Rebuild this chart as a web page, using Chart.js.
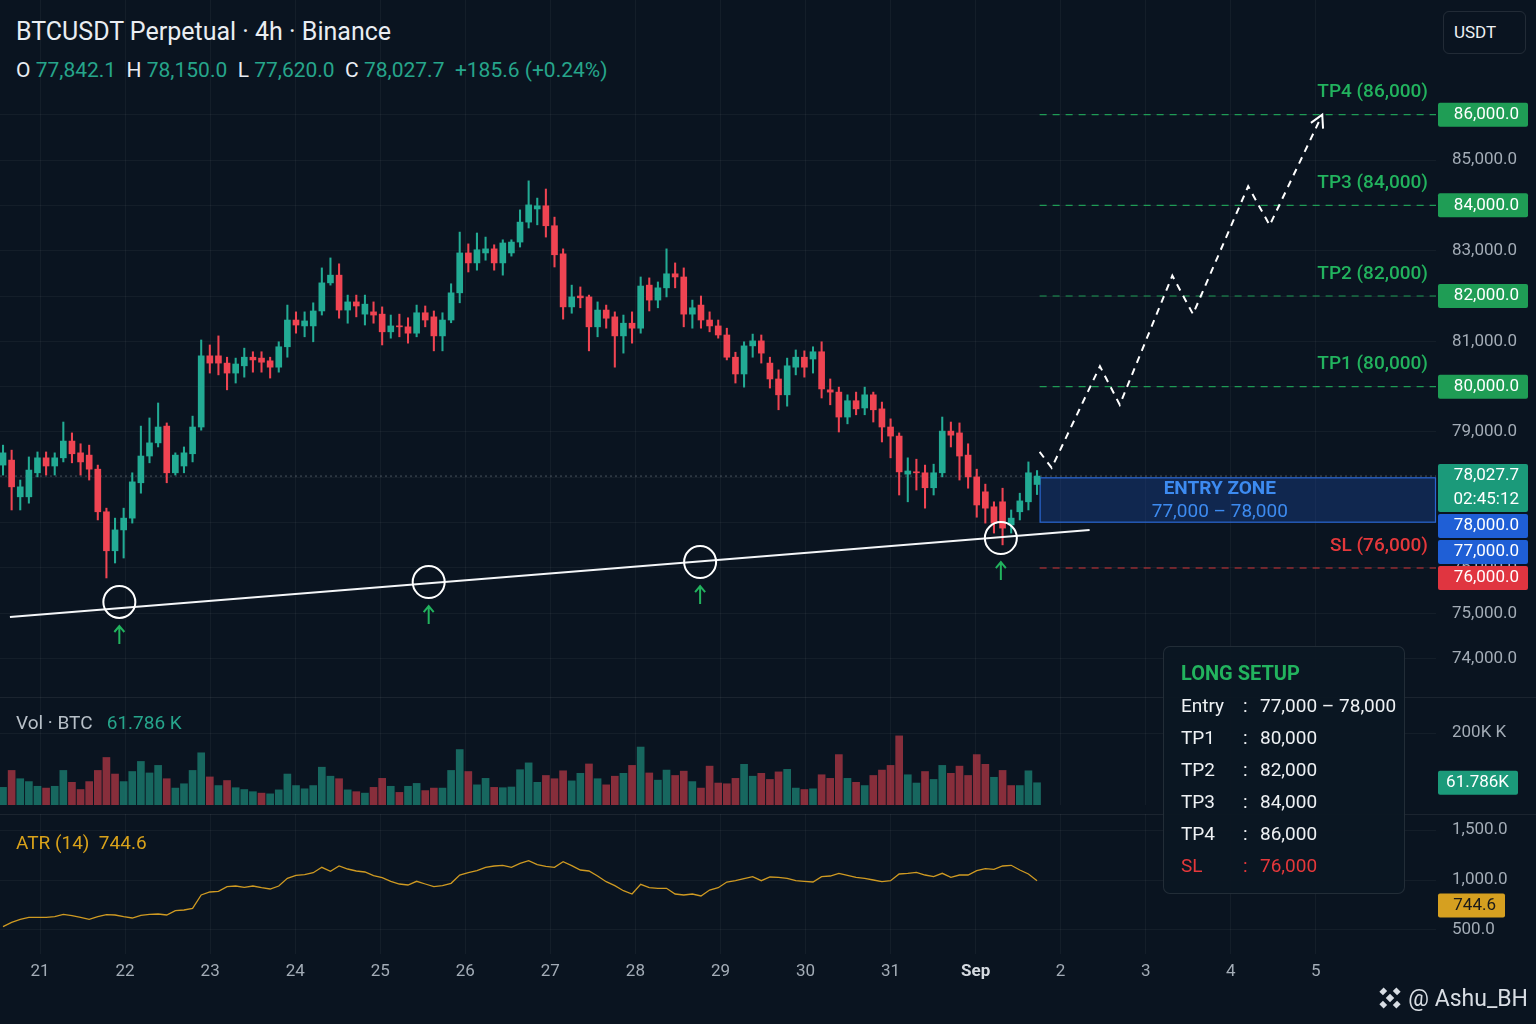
<!DOCTYPE html>
<html>
<head>
<meta charset="utf-8">
<title>BTCUSDT Perpetual 4h</title>
<script src="https://cdn.jsdelivr.net/npm/chart.js@4.4.1/dist/chart.umd.min.js"></script>
<style>
  html, body { margin: 0; padding: 0; }
  body { position: relative; width: 1536px; height: 1024px; overflow: hidden; background: #0a1420; font-family: Roboto, "Noto Sans", sans-serif; }
  .pane { position: absolute; left: 0; width: 1536px; }
  .sep { position: absolute; left: 0; width: 1536px; height: 1px; background: rgba(255,255,255,0.07); }
  #title { position: absolute; left: 16px; top: 16px; font-size: 25px; line-height: 32px; color: #e9edf2; }
  #ohlc { position: absolute; left: 16px; top: 56px; font-size: 21px; line-height: 28px; color: #e9edf2; white-space: pre; }
  .up { color: #26a58b; }
  #unit { position: absolute; left: 1443px; top: 11px; width: 83px; height: 43px; border: 1px solid rgba(255,255,255,0.1); border-radius: 6px; color: #eef1f4; font-size: 17px; line-height: 41px; padding-left: 10px; box-sizing: border-box; }
  .pane-title { position: absolute; left: 16px; font-size: 19px; line-height: 24px; white-space: pre; }
  #setup { position: absolute; left: 1163px; top: 646px; width: 242px; height: 248px; box-sizing: border-box; border: 1px solid rgba(255,255,255,0.1); border-radius: 7px; background: rgba(11,22,34,0.94); }
  #setup .head { position: absolute; left: 17px; top: 10px; font-size: 20px; line-height: 32px; font-weight: bold; color: #22b35e; }
  #setup .row { position: absolute; left: 17px; font-size: 19px; line-height: 32px; color: #eef1f4; white-space: nowrap; }
  #setup .row span { position: absolute; top: 0; }
  #mark { position: absolute; right: 8px; top: 983px; height: 30px; display: flex; align-items: center; gap: 4px; color: #d8dde3; font-size: 23px; }
</style>
</head>
<body>
<div id="title">BTCUSDT Perpetual · 4h · Binance</div>
<div id="ohlc"></div>
<div id="unit">USDT</div>

<div class="pane" style="top:0;height:697px"><canvas id="price-chart"></canvas></div>
<div class="sep" style="top:697px"></div>
<div class="pane" style="top:697px;height:117px"><canvas id="volume-chart"></canvas></div>
<div class="sep" style="top:814px"></div>
<div class="pane" style="top:814px;height:210px"><canvas id="atr-chart"></canvas></div>

<div class="pane-title" id="vol-title" style="top:711px"></div>
<div class="pane-title" id="atr-title" style="top:831px;color:#d9a21a"></div>

<div id="setup"></div>

<div id="mark">
  <svg width="28" height="28" viewBox="0 0 28 28">
    <g fill="#d8dde3" transform="rotate(45 14 14)">
      <rect x="11" y="11" width="6" height="6"/>
      <rect x="11" y="2" width="6" height="5"/>
      <rect x="11" y="21" width="6" height="5"/>
      <rect x="2" y="11" width="5" height="6"/>
      <rect x="21" y="11" width="5" height="6"/>
    </g>
  </svg>
  <span>@ Ashu_BH</span>
</div>

<script>
// ---- candles (4h) ----
const OPEN = [78270,78380,77570,77570,78100,78430,78250,78430,78800,78540,
  78490,78180,77240,76380,76840,77100,77880,78470,78760,79130,
  78100,78250,78520,79110,80680,80680,80520,80300,80460,80650,
  80630,80570,80430,80880,81470,81340,81340,81670,82290,82460,
  81690,81870,81600,81650,81600,81210,81340,81320,81180,81630,
  81540,81120,81470,82070,82950,82730,82950,83040,82730,82950,
  83190,83630,83920,83990,83550,82930,81760,82000,81980,81320,
  81690,81540,81120,81400,81290,82240,81910,82180,82490,82420,
  81600,81800,81470,81340,81140,80650,80280,80900,81010,80520,
  80170,79820,80430,80650,80610,80770,79930,79880,79330,79690,
  79530,79820,79510,79110,78910,78070,78120,78100,77770,78100,
  79020,78980,78490,78010,77680,77350,77460,76950,77240,77460,
  77842.1];
const HIGH = [78710,78600,77940,78450,78560,78560,78540,79220,78980,78740,
  78710,78270,77320,77100,77320,78100,79130,79310,79640,79200,
  78540,78670,79350,81030,80920,81120,80650,80630,80850,80770,
  80770,80650,80990,81800,81650,81650,81850,82620,82840,82710,
  82020,82020,82020,81870,81760,81580,81600,81520,81800,81780,
  81670,81630,82270,83410,83150,83390,83300,83130,83240,83240,
  83900,84540,84160,84360,83740,83040,82240,82200,82020,81870,
  81800,81650,81580,81650,82420,82400,82310,83040,82730,82620,
  81910,82000,81650,81470,81290,80760,80990,81160,81140,80650,
  80370,80630,80810,80790,80880,80990,80170,79990,79820,79880,
  79990,79880,79660,79290,78980,78430,78400,78270,78290,79330,
  79220,79200,78740,78180,77850,77460,77760,77280,77650,78340,
  78150];
const LOW = [78050,77280,77280,77430,78010,78050,78050,78340,78320,78050,
  77940,77060,75780,76110,76220,76990,77650,78320,78670,77880,
  78050,78100,78340,79040,80300,80260,79930,80080,80210,80320,
  80320,80190,80320,80650,81180,81100,80990,81580,82240,81510,
  81400,81540,81360,81400,80920,81070,81100,80960,81100,81320,
  80790,80790,81410,81850,82530,82570,82790,82570,82460,82880,
  83080,83500,83570,83300,82640,81490,81620,81740,80790,81100,
  81290,80430,80740,80960,81180,81670,81740,81980,82180,81320,
  81290,81290,81210,81070,80590,80080,79990,80650,80520,79970,
  79490,79570,80260,80210,80300,79750,79600,79000,79180,79380,
  79380,79220,78780,78430,77610,77460,77720,77320,77610,78010,
  78670,77940,77760,77120,76990,76770,76510,76770,77060,77280,
  77620];
const CLOSE = [78540,77790,77790,78160,78430,78250,78430,78800,78520,78340,
  78180,77240,76380,76840,77100,77900,78470,78760,79110,78100,
  78490,78540,79110,80680,80520,80520,80300,80500,80650,80590,
  80540,80430,80880,81470,81360,81450,81670,82290,82460,81690,
  81870,81780,81820,81580,81210,81340,81320,81180,81630,81470,
  81120,81470,82070,82950,82730,83020,83040,82730,83170,83190,
  83630,84010,83990,83550,82910,81760,81980,81960,81320,81690,
  81510,81120,81400,81290,82220,81910,82180,82490,82420,81600,
  81740,81470,81340,81140,80650,80280,80900,81010,80740,80170,
  79820,80460,80650,80430,80770,79950,79880,79330,79690,79510,
  79820,79490,79110,78910,78120,78140,78100,77770,78100,79020,
  78930,78470,78010,77390,77320,76990,76880,77100,77480,78100,
  78027.7];

// volume in thousands of BTC, and the colour of each volume bar (g = up, r = down)
const VOLUME_K = [49,96,73,65,52,47,52,96,63,43,65,96,132,86,65,93,121,89,110,73,
  47,59,96,145,78,54,68,48,43,37,33,31,42,86,54,45,54,105,80,73,
  42,37,33,49,74,52,35,52,60,40,47,47,96,154,93,56,74,49,48,50,
  98,117,63,82,73,95,67,88,114,73,56,80,88,110,161,89,69,97,82,94,
  65,47,108,61,59,74,113,80,88,71,92,99,47,43,45,84,74,140,74,63,
  54,82,97,110,192,84,61,93,71,110,88,108,82,140,113,77,96,54,54,95,
  61.786];
const VOLUME_SIDE = 'grgggrggrr' + 'rrrrgggggr' + 'ggggrgrggg' + 'rggggggggr' + 'grgrrgrggr' + 'rgggrggrgg' + 'gg' +
  'grrrggrgrr' + 'grgrggrrgr' + 'rrrrggrrrg' + 'grgrrrgrgr' + 'rrrggrggrr' + 'rrrgrrggg';

// ATR (14) line
const ATR = [533,577,607,627,627,627,633,657,643,627,
  607,633,653,650,633,620,647,657,660,650,
  693,700,717,850,880,887,933,940,927,940,
  923,910,940,1017,1047,1053,1073,1127,1087,1140,
  1110,1090,1080,1043,1023,987,960,950,987,960,
  933,943,967,1050,1073,1093,1127,1140,1147,1127,
  1167,1193,1153,1137,1127,1183,1143,1100,1090,1040,
  983,943,893,860,957,923,917,917,860,850,
  860,840,900,923,980,993,1013,1033,993,1030,
  1027,1017,993,987,980,1033,1040,1067,1047,1027,
  1017,1000,983,993,1060,1067,1077,1050,1033,1067,
  1027,1050,1050,1093,1113,1107,1140,1147,1100,1060,
  993];
const ATR_LAST = 744.6;

// trade plan
const TP_LEVELS = [80000, 82000, 84000, 86000];
const STOP_LOSS = 76000;
const ENTRY_LOW = 77000;
const ENTRY_HIGH = 78000;
const COUNTDOWN = '02:45:12';

// projected path (candle index, price)
const FORECAST_X = [120.3, 121.7, 127.3, 129.6, 135.7, 138.1, 144.5, 147.0, 153.1];
const FORECAST_Y = [78560, 78210, 80450, 79600, 82450, 81600, 84420, 83560, 86000];

// rising support line and its touches
const TREND_X = [0.8, 126.1];
const TREND_Y = [74920, 76840];
const SUPPORT_X = [13.5, 49.4, 80.9, 115.8];
const SUPPORT_Y = [75250, 75690, 76130, 76660];

// axes
const DAY_LABELS = ['21','22','23','24','25','26','27','28','29','30','31','Sep','2','3','4','5'];
const PRICE_TICKS = [74000,75000,76000,77000,78000,79000,80000,81000,82000,83000,84000,85000,86000];
const VOLUME_TICKS = [200];
const ATR_TICKS = [500, 1000, 1500];

// ---- layout ----
const X_MIN = -0.35, X_MAX = 166.3;
const DAY_FIRST = 4.3, DAY_STEP = 9.87;
const SETUP_START = 120.3;
const AXIS_W = 100;

const UP = '#22ab94', DOWN = '#ef4452';
const VOL_UP = 'rgba(34,171,148,0.55)', VOL_DOWN = 'rgba(239,68,82,0.55)';
const TP_GREEN = '#22b35e', SL_RED = '#e5383b';
const GRID = 'rgba(255,255,255,0.045)';
const TICK = '#a3acb6';

Chart.defaults.font.family = 'Roboto, "Noto Sans", sans-serif';
Chart.defaults.animation = false;
Chart.defaults.events = [];
Chart.defaults.plugins.legend.display = false;
Chart.defaults.plugins.tooltip.enabled = false;

const fmt1 = v => v.toLocaleString('en-US', {minimumFractionDigits: 1, maximumFractionDigits: 1});
const fmt0 = v => v.toLocaleString('en-US');
const last = CLOSE.length - 1;
const idx = CLOSE.map((_, i) => i);

// header texts
const chg = CLOSE[last] - OPEN[last];
document.getElementById('ohlc').innerHTML =
  `O <span class="up">${fmt1(OPEN[last])}</span>  H <span class="up">${fmt1(HIGH[last])}</span>  ` +
  `L <span class="up">${fmt1(LOW[last])}</span>  C <span class="up">${fmt1(CLOSE[last])}</span>  ` +
  `<span class="up">${chg >= 0 ? '+' : ''}${chg.toFixed(1)} (${chg >= 0 ? '+' : ''}${(chg / OPEN[last] * 100).toFixed(2)}%)</span>`;
document.getElementById('vol-title').innerHTML =
  `<span style="color:#b8c0c8">Vol · BTC</span>   <span class="up">${VOLUME_K[last].toFixed(3)} K</span>`;
document.getElementById('atr-title').textContent = `ATR (14)  ${ATR_LAST}`;

const setupRows = [['Entry', `${fmt0(ENTRY_LOW)} – ${fmt0(ENTRY_HIGH)}`, false]]
  .concat(TP_LEVELS.map((v, k) => [`TP${k + 1}`, fmt0(v), false]))
  .concat([['SL', fmt0(STOP_LOSS), true]]);
document.getElementById('setup').innerHTML = '<div class="head">LONG SETUP</div>' +
  setupRows.map((r, k) => `<div class="row" style="top:${43 + k * 32}px;${r[2] ? 'color:' + SL_RED : ''}">` +
    `<span style="left:0">${r[0]}</span><span style="left:62px">:</span><span style="left:79px">${r[1]}</span></div>`).join('');

// ---- shared pieces ----
function xAxis(labels) {
  return {
    type: 'linear', min: X_MIN, max: X_MAX, offset: false,
    afterBuildTicks: s => { s.ticks = DAY_LABELS.map((_, k) => ({value: DAY_FIRST + k * DAY_STEP})); },
    afterFit: s => { s.height = labels ? 30 : 0; s.paddingLeft = 0; s.paddingRight = 0; },
    ticks: {
      display: labels, autoSkip: false, maxRotation: 0, padding: 8,
      callback: (v, k) => DAY_LABELS[k],
      color: c => DAY_LABELS[c.index] === 'Sep' ? '#d5dae0' : TICK,
      font: c => ({size: 17, weight: DAY_LABELS[c.index] === 'Sep' ? 'bold' : 'normal'})
    },
    grid: {color: GRID, drawTicks: false, offset: false},
    border: {display: false}
  };
}

function yAxis(min, max, ticks, label) {
  return {
    position: 'right', min, max,
    afterBuildTicks: s => { s.ticks = ticks.map(v => ({value: v})); },
    afterFit: s => { s.width = AXIS_W; s.paddingTop = 0; s.paddingBottom = 0; },
    ticks: {callback: label, color: TICK, padding: 16, font: {size: 17}},
    grid: {color: GRID, drawTicks: false},
    border: {display: false}
  };
}

function tagBox(ctx, left, top, w, lines, bg, fg) {
  ctx.fillStyle = bg;
  ctx.beginPath();
  ctx.roundRect(left, top, w, 24 * lines.length, 2);
  ctx.fill();
  ctx.fillStyle = fg;
  ctx.font = '17px Roboto';
  ctx.textAlign = 'right';
  ctx.textBaseline = 'middle';
  lines.forEach((t, k) => ctx.fillText(t, left + w - 9, top + 12 + k * 24));
}

function levelLine(level, color, dash) {
  return {
    type: 'line', order: 3,
    data: [{x: SETUP_START, y: level}, {x: X_MAX, y: level}],
    borderColor: color, borderWidth: 1.2, borderDash: dash, pointRadius: 0
  };
}

// ---- price pane plugins ----
const entryZone = {
  id: 'entryZone',
  beforeDatasetsDraw(chart) {
    const {ctx, chartArea, scales: {x, y}} = chart;
    const left = x.getPixelForValue(SETUP_START), right = chartArea.right;
    const top = y.getPixelForValue(ENTRY_HIGH), bottom = y.getPixelForValue(ENTRY_LOW);
    ctx.save();
    ctx.fillStyle = 'rgba(30,80,175,0.33)';
    ctx.fillRect(left, top, right - left, bottom - top);
    ctx.strokeStyle = '#2a66d0';
    ctx.lineWidth = 1.2;
    ctx.strokeRect(left + 0.5, top + 0.5, right - left - 1, bottom - top - 1);
    const cx = (left + right) / 2 - 18, cy = (top + bottom) / 2;
    ctx.fillStyle = '#3d8bf0';
    ctx.textAlign = 'center';
    ctx.textBaseline = 'middle';
    ctx.font = 'bold 19px Roboto';
    ctx.fillText('ENTRY ZONE', cx, cy - 11);
    ctx.font = '19px Roboto';
    ctx.fillText(`${fmt0(ENTRY_LOW)} – ${fmt0(ENTRY_HIGH)}`, cx, cy + 12);
    ctx.restore();
  }
};

const annotations = {
  id: 'annotations',
  afterDatasetsDraw(chart) {
    const {ctx, chartArea, scales: {x, y}} = chart;
    ctx.save();
    // level captions
    ctx.font = '500 19px Roboto';
    ctx.textAlign = 'right';
    ctx.textBaseline = 'middle';
    TP_LEVELS.forEach((v, k) => {
      ctx.fillStyle = TP_GREEN;
      ctx.fillText(`TP${k + 1} (${fmt0(v)})`, chartArea.right - 8, y.getPixelForValue(v) - 22);
    });
    ctx.fillStyle = SL_RED;
    ctx.fillText(`SL (${fmt0(STOP_LOSS)})`, chartArea.right - 8, y.getPixelForValue(STOP_LOSS) - 22);

    // green arrows under the support touches
    ctx.strokeStyle = TP_GREEN;
    ctx.lineWidth = 2;
    SUPPORT_X.forEach((sx, k) => {
      const px = x.getPixelForValue(sx), py = y.getPixelForValue(SUPPORT_Y[k]);
      ctx.beginPath();
      ctx.moveTo(px, py + 42); ctx.lineTo(px, py + 24);
      ctx.moveTo(px - 5, py + 30); ctx.lineTo(px, py + 24); ctx.lineTo(px + 5, py + 30);
      ctx.stroke();
    });

    // arrow head on the projected path
    const n = FORECAST_X.length;
    const ax = x.getPixelForValue(FORECAST_X[n - 1]), ay = y.getPixelForValue(FORECAST_Y[n - 1]);
    const bx = x.getPixelForValue(FORECAST_X[n - 2]), by = y.getPixelForValue(FORECAST_Y[n - 2]);
    const ang = Math.atan2(ay - by, ax - bx);
    ctx.strokeStyle = '#ffffff';
    ctx.beginPath();
    ctx.moveTo(ax - 14 * Math.cos(ang - 0.5), ay - 14 * Math.sin(ang - 0.5));
    ctx.lineTo(ax, ay);
    ctx.lineTo(ax - 14 * Math.cos(ang + 0.5), ay - 14 * Math.sin(ang + 0.5));
    ctx.stroke();
    ctx.restore();
  }
};

const priceTags = {
  id: 'priceTags',
  afterDraw(chart) {
    const {ctx, chartArea, scales: {y}} = chart;
    const tags = TP_LEVELS.map(v => ({v, lines: [fmt1(v)], bg: '#1f9d55'}))
      .concat([
        {v: CLOSE[last], lines: [fmt1(CLOSE[last]), COUNTDOWN], bg: '#1b9a7a'},
        {v: ENTRY_HIGH, lines: [fmt1(ENTRY_HIGH)], bg: '#1f5fd6'},
        {v: ENTRY_LOW, lines: [fmt1(ENTRY_LOW)], bg: '#1f5fd6'},
        {v: STOP_LOSS, lines: [fmt1(STOP_LOSS)], bg: '#e03540'}
      ])
      .sort((a, b) => b.v - a.v);
    let bottom = -Infinity;
    ctx.save();
    tags.forEach(t => {
      let top = y.getPixelForValue(t.v) - 12;
      if (top < bottom + 2) top = bottom + 2;
      tagBox(ctx, chartArea.right + 2, top, 90, t.lines, t.bg, '#ffffff');
      bottom = top + 24 * t.lines.length;
    });
    ctx.restore();
  }
};

// ---- price pane ----
new Chart(document.getElementById('price-chart'), {
  type: 'bar',
  data: {
    datasets: [
      {
        type: 'line', order: 0,
        data: FORECAST_X.map((fx, k) => ({x: fx, y: FORECAST_Y[k]})),
        borderColor: '#ffffff', borderWidth: 2, borderDash: [7, 6], pointRadius: 0
      },
      {
        type: 'line', order: 1, showLine: false,
        data: SUPPORT_X.map((sx, k) => ({x: sx, y: SUPPORT_Y[k]})),
        pointRadius: 16, pointBorderWidth: 2, pointBorderColor: '#ffffff', pointBackgroundColor: 'rgba(0,0,0,0)'
      },
      {
        type: 'line', order: 2,
        data: TREND_X.map((tx, k) => ({x: tx, y: TREND_Y[k]})),
        borderColor: '#f4f6f8', borderWidth: 2, pointRadius: 0
      },
      ...TP_LEVELS.map(v => levelLine(v, 'rgba(34,179,94,0.85)', [7, 6])),
      levelLine(STOP_LOSS, 'rgba(229,56,59,0.9)', [7, 6]),
      {
        order: 4, grouped: false, barThickness: 6, minBarLength: 1,
        data: idx.map(i => ({x: i, y: [OPEN[i], CLOSE[i]]})),
        backgroundColor: idx.map(i => CLOSE[i] >= OPEN[i] ? UP : DOWN)
      },
      {
        order: 5, grouped: false, barThickness: 1.4,
        data: idx.map(i => ({x: i, y: [LOW[i], HIGH[i]]})),
        backgroundColor: idx.map(i => CLOSE[i] >= OPEN[i] ? UP : DOWN)
      },
      {
        type: 'line', order: 6,
        data: [{x: X_MIN, y: CLOSE[last]}, {x: X_MAX, y: CLOSE[last]}],
        borderColor: 'rgba(190,200,210,0.35)', borderWidth: 1, borderDash: [2, 3], pointRadius: 0
      }
    ]
  },
  options: {
    responsive: true, maintainAspectRatio: false,
    layout: {padding: 0, autoPadding: false},
    scales: {
      x: xAxis(false),
      y: yAxis(73154, 88530, PRICE_TICKS, v => fmt1(v))
    }
  },
  plugins: [entryZone, annotations, priceTags]
});

// ---- volume pane ----
new Chart(document.getElementById('volume-chart'), {
  type: 'bar',
  data: {
    datasets: [{
      barThickness: 7,
      data: idx.map(i => ({x: i, y: VOLUME_K[i]})),
      backgroundColor: idx.map(i => VOLUME_SIDE[i] === 'g' ? VOL_UP : VOL_DOWN)
    }]
  },
  options: {
    responsive: true, maintainAspectRatio: false,
    layout: {padding: {bottom: 9}, autoPadding: false},
    scales: {
      x: xAxis(false),
      y: yAxis(0, 300, VOLUME_TICKS, v => `${v}K K`)
    }
  },
  plugins: [{
    id: 'volumeTag',
    afterDraw(chart) {
      const {ctx, chartArea, scales: {y}} = chart;
      ctx.save();
      tagBox(ctx, chartArea.right + 2, y.getPixelForValue(VOLUME_K[last]) - 12, 80, [`${VOLUME_K[last].toFixed(3)}K`], '#1b9a7a', '#ffffff');
      ctx.restore();
    }
  }]
});

// ---- ATR pane ----
new Chart(document.getElementById('atr-chart'), {
  type: 'line',
  data: {
    datasets: [{
      data: idx.map(i => ({x: i, y: ATR[i]})),
      borderColor: '#cf9a22', borderWidth: 1.3, pointRadius: 0
    }]
  },
  options: {
    responsive: true, maintainAspectRatio: false,
    layout: {padding: {bottom: 40}, autoPadding: false},
    scales: {
      x: xAxis(true),
      y: yAxis(260, 1660, ATR_TICKS, v => fmt1(v))
    }
  },
  plugins: [{
    id: 'atrTag',
    afterDraw(chart) {
      const {ctx, chartArea, scales: {y}} = chart;
      ctx.save();
      tagBox(ctx, chartArea.right + 2, y.getPixelForValue(ATR_LAST) - 12, 67, [String(ATR_LAST)], '#d6a020', '#1a1a1a');
      ctx.restore();
    }
  }]
});
</script>
</body>
</html>
